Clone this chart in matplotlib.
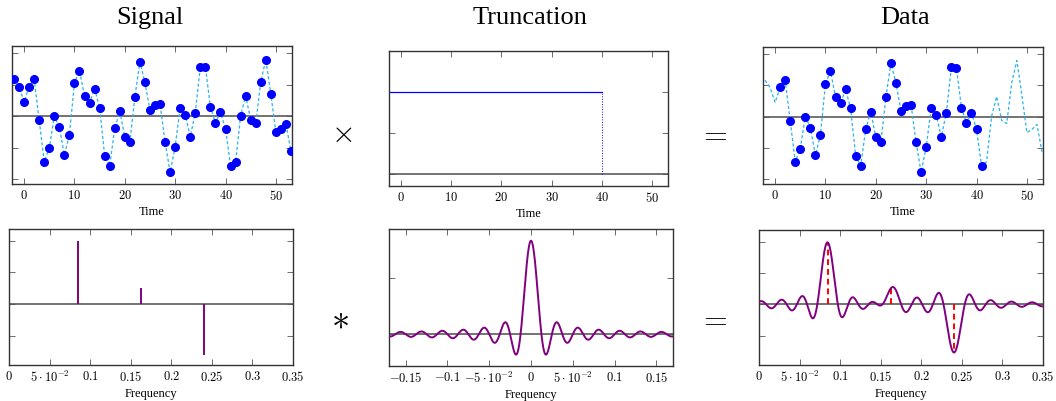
import numpy as np
import matplotlib
matplotlib.use("Agg")
import matplotlib.pyplot as plt

plt.rcParams['mathtext.fontset'] = 'cm'
plt.rcParams['font.family'] = ['Liberation Serif', 'DejaVu Serif']

t_samples = list(range(-2, 54))
signal = [1.16, 0.93, 0.45, 0.93, 1.16, -0.13, -1.44, -1.02, 0.0, -0.35,
          -1.23, -0.59, 1.05, 1.44, 0.63, 0.42, 0.87, 0.26, -1.25, -1.57,
          -0.39, 0.15, -0.66, -0.82, 0.61, 1.71, 1.07, 0.18, 0.34, 0.38,
          -0.82, -1.78, -0.97, 0.27, 0.05, -0.65, 0.11, 1.57, 1.56, 0.29,
          -0.21, 0.12, -0.40, -1.57, -1.44, 0.01, 0.64, -0.12, -0.22, 1.08,
          1.79, 0.69, -0.51, -0.41, -0.25, -1.12]
kept_first, kept_last = 1, 41   # samples shown as dots in "Data"

# truncation window
window_end = 40
window_height = 1.0

# line spectrum of the signal
spike_freqs = [0.0845, 0.1625, 0.2405]
spike_amps = [2.0, 0.5, -1.6]

purple = '#800080'
cyan = '#2ab4ea'
zero_col = '#4d4d4d'


def kernel(f):
    # real part of the transform of the window [0, window_end], unit peak
    return np.sinc(2 * window_end * np.asarray(f))


def fmt_tick(v):
    if abs(v) < 1e-9:
        return r'$0$'
    if abs(abs(v) - 0.05) < 1e-9:
        s = r'5\cdot10^{-2}'
    else:
        s = ('%g' % abs(v))
    return r'$%s%s$' % ('-' if v < 0 else '', s)


def style(ax, xticks, yticks, xlim, ylim, xlabel):
    ax.set_xlim(*xlim)
    ax.set_ylim(*ylim)
    ax.set_xticks(xticks)
    ax.set_xticklabels([fmt_tick(v) for v in xticks], fontsize=9)
    ax.set_yticks(yticks)
    ax.set_yticklabels([])
    ax.tick_params(direction='in', top=True, right=True, length=4,
                   width=0.6, color='#555555', pad=3)
    for s in ax.spines.values():
        s.set_color('#333333')
        s.set_linewidth(1.0)
    ax.axhline(0, color=zero_col, lw=1.1, zorder=1)
    ax.set_xlabel(xlabel, fontsize=9, labelpad=2)


W, H = 1056, 402
fig = plt.figure(figsize=(W / 100, H / 100), dpi=100)


def add_ax(l, t, r, b):
    return fig.add_axes([l / W, 1 - b / H, (r - l) / W, (b - t) / H])


time_xlim = (-2.4, 53.2)
time_ticks = [0, 10, 20, 30, 40, 50]
sig_ylim = (-2.15, 2.22)
sig_yticks = [-2, -1, 0, 1, 2]

# --- top row ---
ax1 = add_ax(12, 47, 292, 185)
ax1.plot(t_samples, signal, ls=(0, (2.5, 1.8)), color=cyan, lw=0.9, zorder=2)
ax1.plot(t_samples, signal, 'o', color='#0000ff', ms=5.5, zorder=3)
style(ax1, time_ticks, sig_yticks, time_xlim, sig_ylim, 'Time')

ax2 = add_ax(389, 52, 668, 187)
ax2.plot([time_xlim[0], window_end], [window_height, window_height],
         color='#0000ff', lw=0.9)
ax2.plot([window_end, window_end], [0, window_height], color='#0000ff',
         lw=0.7, ls=':')
style(ax2, time_ticks, [0, 0.5, 1.0], time_xlim, (-0.14, 1.49), 'Time')

ax3 = add_ax(763, 48, 1043, 185)
ax3.plot(t_samples, signal, ls=(0, (2.5, 1.8)), color=cyan, lw=0.9, zorder=2)
i0 = t_samples.index(kept_first)
i1 = t_samples.index(kept_last) + 1
ax3.plot(t_samples[i0:i1], signal[i0:i1], 'o', color='#0000ff', ms=5.5,
         zorder=3)
style(ax3, time_ticks, sig_yticks, time_xlim, sig_ylim, 'Time')

# --- bottom row ---
f_ticks = [0, 0.05, 0.1, 0.15, 0.2, 0.25, 0.3, 0.35]
spec_ylim = (-1.93, 2.37)
spec_yticks = [-1, 0, 1, 2]

ax4 = add_ax(9, 230, 293, 366)
ax4.vlines(spike_freqs, 0, spike_amps, color=purple, lw=1.4, zorder=3)
style(ax4, f_ticks, spec_yticks, (0, 0.35), spec_ylim, 'Frequency')

ax5 = add_ax(389, 230, 673, 367)
fk = np.linspace(-0.17, 0.17, 1500)
ax5.plot(fk, kernel(fk), color=purple, lw=1.4, zorder=3)
style(ax5, [-0.15, -0.1, -0.05, 0, 0.05, 0.1, 0.15], [0, 0.6],
      (-0.17, 0.17), (-0.339, 1.125), 'Frequency')

ax6 = add_ax(759, 231, 1043, 366)
fd = np.linspace(0, 0.35, 1500)
conv = sum(a * kernel(fd - f0) for f0, a in zip(spike_freqs, spike_amps))
ax6.plot(fd, conv, color=purple, lw=1.4, zorder=3)
peak_vals = [sum(a * kernel(fp - f0) for f0, a in zip(spike_freqs, spike_amps))
             for fp in spike_freqs]
ax6.vlines(spike_freqs, 0, peak_vals, color='red', lw=1.4, ls=(0, (3, 2)),
           zorder=2)
style(ax6, f_ticks, spec_yticks, (0, 0.35), spec_ylim, 'Frequency')

# titles and operators
fig.text(150 / W, 1 - 18 / H, 'Signal', ha='center', va='center', fontsize=19)
fig.text(530 / W, 1 - 18 / H, 'Truncation', ha='center', va='center',
         fontsize=19)
fig.text(905 / W, 1 - 18 / H, 'Data', ha='center', va='center', fontsize=19)
fig.text(342 / W, 1 - 135 / H, r'$\times$', ha='center', va='center',
         fontsize=22)
fig.text(713 / W, 1 - 135 / H, r'$=$', ha='center', va='center', fontsize=22)
fig.text(340 / W, 1 - 320 / H, r'$\ast$', ha='center', va='center',
         fontsize=26)
fig.text(713 / W, 1 - 320 / H, r'$=$', ha='center', va='center', fontsize=22)

fig.savefig('out.png', dpi=100)
